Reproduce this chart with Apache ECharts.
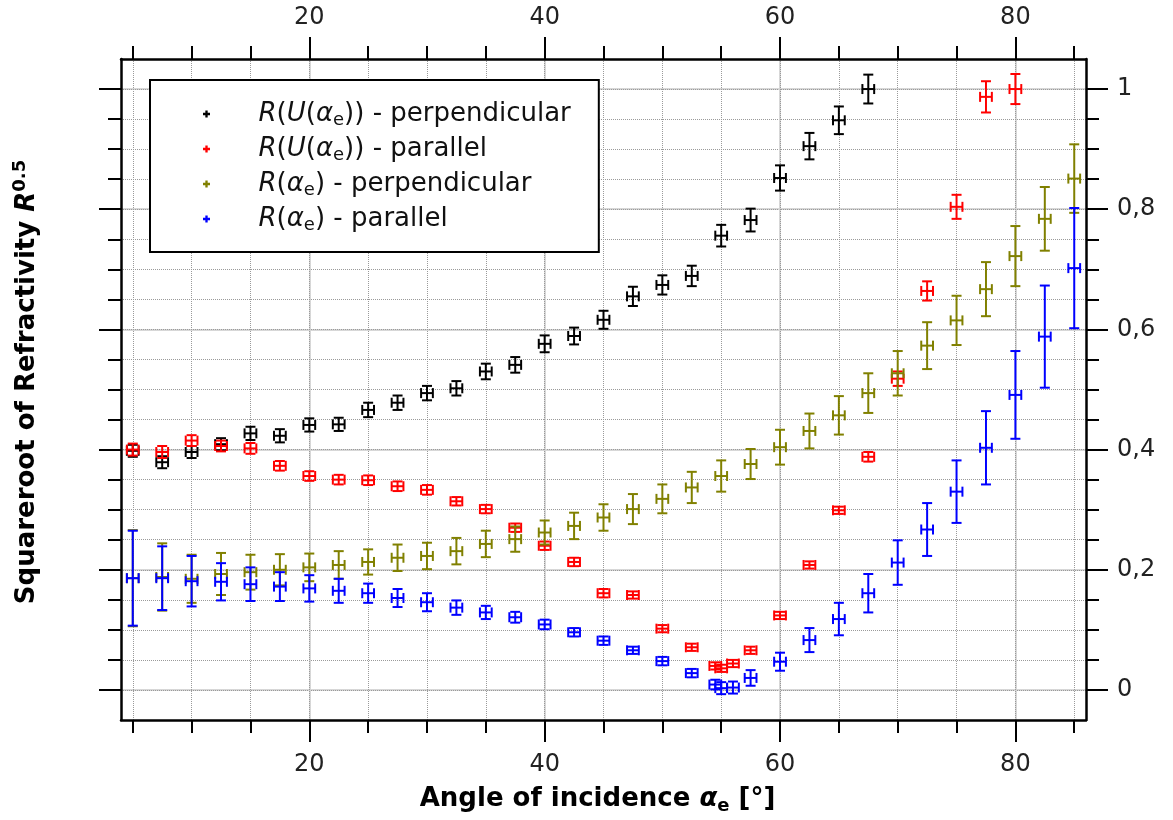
<!DOCTYPE html>
<html>
<head>
<meta charset="utf-8">
<script src="https://cdn.jsdelivr.net/npm/echarts@6/dist/echarts.min.js"></script>
<style>
  html, body { margin: 0; padding: 0; background: #fff; }
  #chart { width: 1173px; height: 820px; }
</style>
</head>
<body>
<div id="chart"></div>
<script>
// angles of incidence [deg] and square root of reflectivity, with vertical errors
var anglePerpU = [5, 7.5, 10, 12.5, 15, 17.5, 20, 22.5, 25, 27.5, 30, 32.5, 35, 37.5, 40, 42.5, 45, 47.5, 50, 52.5, 55, 57.5, 60, 62.5, 65, 67.5];
var valuePerpU = [0.398, 0.379, 0.396, 0.409, 0.427, 0.423, 0.441, 0.442, 0.466, 0.478, 0.494, 0.502, 0.530, 0.541, 0.576, 0.589, 0.616, 0.655, 0.674, 0.689, 0.756, 0.782, 0.852, 0.905, 0.948, 1.000];
var errPerpU = [0.010, 0.010, 0.010, 0.010, 0.011, 0.011, 0.011, 0.011, 0.012, 0.012, 0.012, 0.012, 0.013, 0.013, 0.014, 0.014, 0.015, 0.016, 0.016, 0.017, 0.018, 0.019, 0.021, 0.022, 0.023, 0.024];

var angleParU = [5, 7.5, 10, 12.5, 15, 17.5, 20, 22.5, 25, 27.5, 30, 32.5, 35, 37.5, 40, 42.5, 45, 47.5, 50, 52.5, 54.5, 55, 56, 57.5, 60, 62.5, 65, 67.5, 70, 72.5, 75, 77.5, 80];
var valueParU = [0.400, 0.396, 0.415, 0.406, 0.402, 0.373, 0.356, 0.350, 0.349, 0.339, 0.333, 0.314, 0.301, 0.270, 0.240, 0.213, 0.161, 0.158, 0.102, 0.071, 0.040, 0.036, 0.044, 0.066, 0.124, 0.208, 0.299, 0.388, 0.518, 0.664, 0.804, 0.987, 1.000];
var errParU = [0.010, 0.010, 0.009, 0.009, 0.009, 0.008, 0.008, 0.008, 0.008, 0.008, 0.008, 0.007, 0.007, 0.007, 0.007, 0.007, 0.007, 0.006, 0.006, 0.006, 0.006, 0.006, 0.006, 0.006, 0.006, 0.006, 0.006, 0.008, 0.012, 0.016, 0.020, 0.026, 0.025];

var anglePerp = [5, 7.5, 10, 12.5, 15, 17.5, 20, 22.5, 25, 27.5, 30, 32.5, 35, 37.5, 40, 42.5, 45, 47.5, 50, 52.5, 55, 57.5, 60, 62.5, 65, 67.5, 70, 72.5, 75, 77.5, 80, 82.5, 85];
var valuePerp = [0.186, 0.188, 0.185, 0.193, 0.196, 0.200, 0.204, 0.208, 0.213, 0.220, 0.223, 0.231, 0.243, 0.251, 0.262, 0.273, 0.287, 0.301, 0.318, 0.337, 0.356, 0.376, 0.404, 0.431, 0.457, 0.494, 0.527, 0.573, 0.615, 0.667, 0.722, 0.784, 0.851];
var errPerp = [0.080, 0.056, 0.040, 0.035, 0.029, 0.026, 0.023, 0.023, 0.021, 0.022, 0.022, 0.022, 0.022, 0.021, 0.020, 0.022, 0.022, 0.025, 0.024, 0.026, 0.026, 0.025, 0.029, 0.029, 0.032, 0.033, 0.037, 0.039, 0.041, 0.045, 0.050, 0.053, 0.057];

var anglePar = [5, 7.5, 10, 12.5, 15, 17.5, 20, 22.5, 25, 27.5, 30, 32.5, 35, 37.5, 40, 42.5, 45, 47.5, 50, 52.5, 54.5, 55, 56, 57.5, 60, 62.5, 65, 67.5, 70, 72.5, 75, 77.5, 80, 82.5, 85];
var valuePar = [0.186, 0.186, 0.181, 0.180, 0.176, 0.172, 0.169, 0.165, 0.161, 0.153, 0.146, 0.137, 0.129, 0.121, 0.109, 0.096, 0.082, 0.066, 0.048, 0.028, 0.009, 0.003, 0.004, 0.020, 0.047, 0.083, 0.118, 0.161, 0.212, 0.267, 0.330, 0.403, 0.491, 0.588, 0.702];
var errPar = [0.079, 0.053, 0.042, 0.031, 0.028, 0.024, 0.022, 0.020, 0.016, 0.015, 0.015, 0.012, 0.011, 0.009, 0.008, 0.007, 0.007, 0.006, 0.007, 0.007, 0.008, 0.010, 0.010, 0.013, 0.015, 0.020, 0.027, 0.032, 0.037, 0.044, 0.052, 0.061, 0.073, 0.085, 0.100];

var angleErr = 0.5;

var seriesNames = ["R(U(αe)) - perpendicular", "R(U(αe)) - parallel", "R(αe) - perpendicular", "R(αe) - parallel"];
var legendLabels = {
  "R(U(αe)) - perpendicular": "{i|R}({i|U}({i|α}{s|e})) - perpendicular",
  "R(U(αe)) - parallel": "{i|R}({i|U}({i|α}{s|e})) - parallel",
  "R(αe) - perpendicular": "{i|R}({i|α}{s|e}) - perpendicular",
  "R(αe) - parallel": "{i|R}({i|α}{s|e}) - parallel"
};

var xMajor = [20, 40, 60, 80];
var xMinor = [5, 10, 15, 20, 25, 30, 35, 40, 45, 50, 55, 60, 65, 70, 75, 80, 85];
var yMajor = [0, 0.2, 0.4, 0.6, 0.8, 1];
var yMinor = [0, 0.05, 0.1, 0.15, 0.2, 0.25, 0.3, 0.35, 0.4, 0.45, 0.5, 0.55, 0.6, 0.65, 0.7, 0.75, 0.8, 0.85, 0.9, 0.95, 1];

var colors = ["#000000", "#ff0000", "#808000", "#0000ff"];
var FONT = "DejaVu Sans";

function pack(angles, vals, errs) {
  return angles.map(function (a, i) { return [a, vals[i], errs[i], angleErr]; });
}

function errorBars(params, api) {
  var x = api.value(0), y = api.value(1), ey = api.value(2), ex = api.value(3);
  var b = api.coord([x, y - ey]), t = api.coord([x, y + ey]);
  var l = api.coord([x - ex, y]), r = api.coord([x + ex, y]);
  var cap = 5;
  var st = { stroke: api.visual("color"), lineWidth: 2 };
  function seg(x1, y1, x2, y2) {
    return { type: "line", shape: { x1: x1, y1: y1, x2: x2, y2: y2 }, style: st };
  }
  return {
    type: "group",
    children: [
      seg(b[0], b[1], t[0], t[1]),
      seg(b[0] - cap, b[1], b[0] + cap, b[1]),
      seg(t[0] - cap, t[1], t[0] + cap, t[1]),
      seg(l[0], l[1], r[0], r[1]),
      seg(l[0], l[1] - cap, l[0], l[1] + cap),
      seg(r[0], r[1] - cap, r[0], r[1] + cap)
    ]
  };
}

var plusIcon = "path://M2,0H4V2H6V4H4V6H2V4H0V2H2Z";

function xAxisDef(pos, major) {
  return {
    type: "value", position: pos, min: 4, max: 86,
    axisLine: { show: major, onZero: false, lineStyle: { color: "#000", width: 2.5 } },
    axisTick: { show: true, inside: false, length: major ? 22 : 13, customValues: major ? xMajor : xMinor,
      lineStyle: { color: "#000", width: 2 } },
    axisLabel: { show: major, customValues: xMajor, margin: pos === "bottom" ? 33 : 29,
      fontSize: 24, color: "#222", fontFamily: FONT },
    splitLine: { show: true, lineStyle: major ? { color: "#d4d4d4", width: 1.5 } : { color: "#9a9a9a", width: 1, type: [1, 1] } }
  };
}

function yAxisDef(pos, major) {
  return {
    type: "value", position: pos, min: -0.05, max: 1.05,
    axisLine: { show: major, onZero: false, lineStyle: { color: "#000", width: 2.5 } },
    axisTick: { show: true, inside: false, length: major ? 22 : 13, customValues: major ? yMajor : yMinor,
      lineStyle: { color: "#000", width: 2 } },
    axisLabel: { show: major && pos === "right", customValues: yMajor, margin: 31,
      fontSize: 24, color: "#222", fontFamily: FONT,
      formatter: function (v) { return String(v).replace(".", ","); } },
    splitLine: { show: true, lineStyle: major ? { color: "#d4d4d4", width: 1.5 } : { color: "#9a9a9a", width: 1, type: [1, 1] } }
  };
}

var xBottom = xAxisDef("bottom", true);
xBottom.name = "Angle of incidence {a|α}{s|e} [°]";
xBottom.nameLocation = "middle";
xBottom.nameGap = 63;
xBottom.nameTextStyle = {
  fontSize: 26, fontWeight: "bold", color: "#000", fontFamily: FONT, lineHeight: 32,
  padding: [0, 12, 0, 0],
  rich: {
    a: { fontSize: 26, fontWeight: "bold", fontStyle: "italic", fontFamily: FONT, color: "#000" },
    s: { fontSize: 18, fontWeight: "bold", fontFamily: FONT, color: "#000", verticalAlign: "bottom", lineHeight: 19 }
  }
};

var allData = [
  pack(anglePerpU, valuePerpU, errPerpU),
  pack(angleParU, valueParU, errParU),
  pack(anglePerp, valuePerp, errPerp),
  pack(anglePar, valuePar, errPar)
];

var option = {
  animation: false,
  backgroundColor: "#fff",
  grid: { left: 121, right: 87, top: 59, bottom: 98, containLabel: false },
  xAxis: [xBottom, xAxisDef("bottom", false), xAxisDef("top", true), xAxisDef("top", false)],
  yAxis: [yAxisDef("left", true), yAxisDef("left", false), yAxisDef("right", true), yAxisDef("right", false)],
  legend: {
    orient: "vertical", left: 150, top: 80,
    padding: [19, 28, 18, 53], itemGap: 5, itemWidth: 94, itemHeight: 7,
    backgroundColor: "#fff", borderColor: "#000", borderWidth: 2, selectedMode: false,
    data: seriesNames.map(function (n, i) { return { name: n, icon: plusIcon, itemStyle: { color: colors[i] } }; }),
    formatter: function (n) { return legendLabels[n]; },
    textStyle: {
      fontSize: 26, lineHeight: 30, color: "#111", fontFamily: FONT,
      rich: {
        i: { fontSize: 26, fontStyle: "italic", fontFamily: FONT, color: "#111" },
        s: { fontSize: 18, fontFamily: FONT, color: "#111", verticalAlign: "bottom", lineHeight: 18 }
      }
    }
  },
  graphic: [{
    type: "text", x: 27, y: 382, rotation: Math.PI / 2,
    style: {
      text: "Squareroot of Refractivity {r|R}{p|0.5}",
      fontSize: 26, fontWeight: "bold", fontFamily: FONT, fill: "#000",
      align: "center", verticalAlign: "middle", lineHeight: 32,
      rich: {
        r: { fontSize: 26, fontWeight: "bold", fontStyle: "italic", fontFamily: FONT, fill: "#000" },
        p: { fontSize: 18, fontWeight: "bold", fontFamily: FONT, fill: "#000", verticalAlign: "top", lineHeight: 19 }
      }
    }
  }],
  series: seriesNames.map(function (n, i) {
    return {
      name: n, type: "custom", xAxisIndex: 0, yAxisIndex: 0,
      itemStyle: { color: colors[i] },
      encode: { x: 0, y: 1 },
      renderItem: errorBars,
      data: allData[i],
      z: 3 + i
    };
  })
};

var chart = echarts.init(document.getElementById("chart"));
chart.setOption(option);
window.addEventListener("resize", function () { chart.resize(); });
</script>
</body>
</html>
